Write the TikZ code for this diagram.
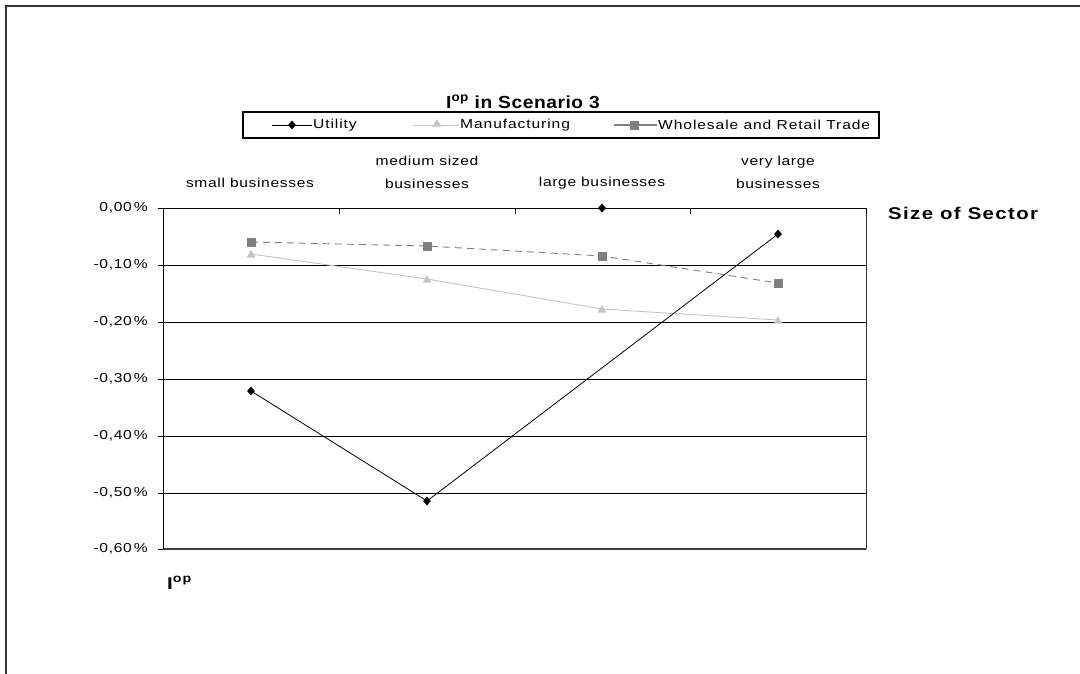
\documentclass[tikz,border=0pt]{standalone}
\usepackage{fontspec}
\setmainfont{Liberation Sans}
\newfontfamily\chartfont[FakeStretch=1.2,LetterSpace=5]{Liberation Sans}
\newfontfamily\legfont[FakeStretch=1.2,LetterSpace=7]{Liberation Sans}
\newfontfamily\boldfont[FakeStretch=1.2,LetterSpace=8]{Liberation Sans Bold}
\newfontfamily\titlefont[FakeStretch=1.1,LetterSpace=3]{Liberation Sans Bold}
\usetikzlibrary{shapes.geometric}
\definecolor{manuf}{HTML}{C4C4C4}
\definecolor{whole}{HTML}{808080}
\begin{document}
\begin{tikzpicture}[x=1pt,y=-1pt,
  axislbl/.style={font=\chartfont\fontsize{13}{15}\selectfont, inner sep=0pt},
  catlbl/.style={font=\chartfont\fontsize{13}{23}\selectfont, inner sep=0pt, align=center},
  leglbl/.style={font=\legfont\fontsize{13}{14}\selectfont, inner sep=0pt, anchor=west},
  boldlbl/.style={font=\boldfont\fontsize{15.5}{17}\selectfont, inner sep=0pt},
  grid/.style={line width=1pt, black},
  utilline/.style={line width=0.8pt, black},
  manline/.style={line width=0.9pt, manuf},
  wholeline/.style={line width=0.9pt, whole, dash pattern=on 7pt off 5pt},
  utilmark/.style={diamond, fill=black, inner sep=0pt, minimum width=8pt, minimum height=9pt},
  manmark/.style={regular polygon, regular polygon sides=3, fill=manuf, inner sep=0pt, minimum size=10pt},
  wholemark/.style={rectangle, fill=whole, inner sep=0pt, minimum size=9pt}]
\useasboundingbox (0,0) rectangle (1080,673);
\fill[white] (0,0) rectangle (1080,673);
% outer frame
\draw[line width=2pt, black!80] (1082,6) -- (6,6) -- (6,675);
% title
\node[inner sep=0pt, anchor=base, font=\titlefont\fontsize{17.5}{19}\selectfont] (title) at (523,108) {I\textsuperscript{op} in Scenario 3};
% legend
\node[draw, line width=1.2pt, minimum width=636pt, minimum height=26pt, inner sep=0pt] (legend) at (561,125) {};
\coordinate (lu1) at (272,125); \coordinate (lu2) at (312,125);
\draw[utilline] (lu1) -- (lu2);
\node[utilmark] (lum) at (292,125) {};
\node[leglbl] (lut) at (313,125) {Utility};
\coordinate (lm1) at (413,125); \coordinate (lm2) at (459,125);
\draw[manline] (lm1) -- (lm2);
\node[manmark] (lmm) at (437,124) {};
\node[leglbl] (lmt) at (460,125) {Manufacturing};
\coordinate (lw1) at (614,125); \coordinate (lw2) at (657,125);
\draw[line width=2pt, whole] (lw1) -- (lw2);
\node[wholemark] (lwm) at (634,125) {};
\node[leglbl] (lwt) at (658,125) {Wholesale and Retail Trade};
% category labels
\node[catlbl] (c1) at (250,183) {small businesses};
\node[catlbl, anchor=south] (c2) at (427,189) {medium sized\\businesses};
\node[catlbl] (c3) at (602,183) {large businesses};
\node[catlbl, anchor=south] (c4) at (778,189) {very large\\businesses};
% plot frame
\coordinate (pTL) at (163,208); \coordinate (pTR) at (866,208);
\coordinate (pBL) at (163,549); \coordinate (pBR) at (866,549);
\foreach \yy in {265,322,379,436,493} { \draw[grid] (163,\yy) -- (866,\yy); }
\draw[line width=1.6pt, black!75] (pBL) -- (pBR);
\draw[line width=1pt, black!80] (pTR) -- (pBR);
\draw[grid] (pTL) -- (pTR);
\draw[grid] (pTL) -- (pBL);
\foreach \yy in {208,265,322,379,436,493,549} { \draw[grid] (158,\yy) -- (163,\yy); }
\foreach \xx in {339,515,690,866} { \draw[grid] (\xx,208) -- (\xx,214); }
% y labels
\node[axislbl, anchor=east] (y0) at (148,208) {0,00\,\%};
\node[axislbl, anchor=east] (y1) at (148,265) {-0,10\,\%};
\node[axislbl, anchor=east] (y2) at (148,322) {-0,20\,\%};
\node[axislbl, anchor=east] (y3) at (148,379) {-0,30\,\%};
\node[axislbl, anchor=east] (y4) at (148,436) {-0,40\,\%};
\node[axislbl, anchor=east] (y5) at (148,493) {-0,50\,\%};
\node[axislbl, anchor=east] (y6) at (148,549) {-0,60\,\%};
% axis titles
\node[boldlbl, anchor=west, font=\boldfont\fontsize{17}{19}\selectfont] (xt) at (888,213) {Size of Sector};
\node[boldlbl, anchor=base west, font=\boldfont\fontsize{17}{19}\selectfont] (yt) at (167,589) {I\textsuperscript{op}};
% data points
\coordinate (u1) at (251,391); \coordinate (u2) at (427,501);
\coordinate (u3) at (602,208); \coordinate (u4) at (778,234);
\coordinate (m1) at (251,254); \coordinate (m2) at (427,279);
\coordinate (m3) at (602,309); \coordinate (m4) at (778,320);
\coordinate (w1) at (251,242); \coordinate (w2) at (427,246);
\coordinate (w3) at (602,256); \coordinate (w4) at (778,283);
\draw[manline] (m1) -- (m2) -- (m3) -- (m4);
\draw[wholeline] (w1) -- (w2) -- (w3) -- (w4);
\draw[utilline] (u1) -- (u2) -- (u4);
\foreach \p in {m1,m2,m3,m4} { \node[manmark] (mk\p) at ([yshift=-1pt]\p) {}; }
\foreach \p in {w1,w2,w3,w4} { \node[wholemark] (mk\p) at (\p) {}; }
\foreach \p in {u1,u2,u3,u4} { \node[utilmark] (mk\p) at (\p) {}; }
\end{tikzpicture}
\end{document}
